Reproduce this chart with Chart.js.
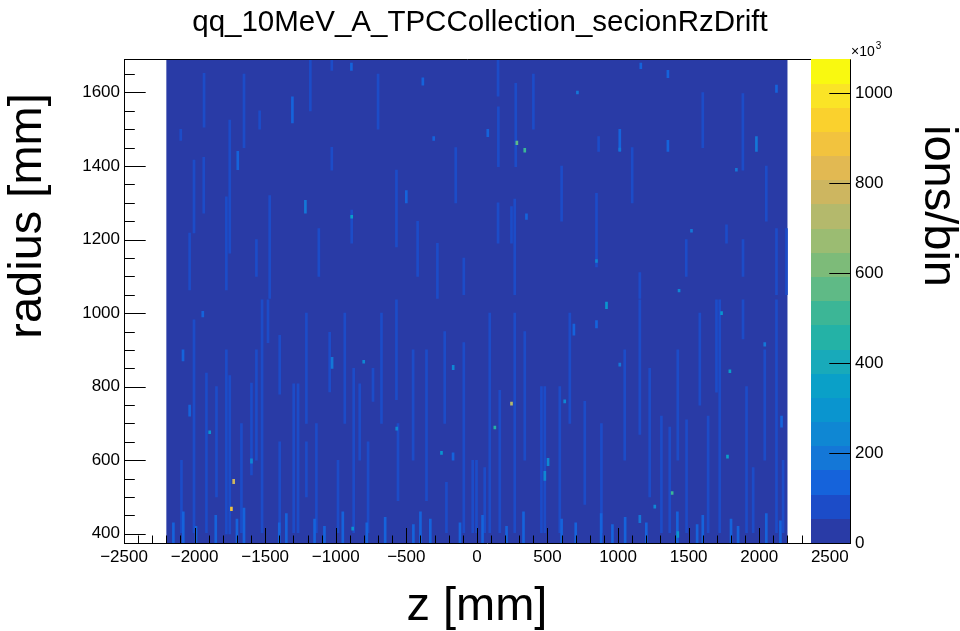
<!DOCTYPE html>
<html>
<head>
<meta charset="utf-8">
<script src="https://cdn.jsdelivr.net/npm/chart.js@4.4.1/dist/chart.umd.min.js"></script>
<style>
  html, body { margin: 0; padding: 0; background: #fff; }
</style>
</head>
<body>
<canvas id="myChart" width="960" height="631"></canvas>
<script>
// AXES
const zTicks = [-2500, -2000, -1500, -1000, -500, 0, 500, 1000, 1500, 2000, 2500];
const zTickLabels = ['\u22122500', '\u22122000', '\u22121500', '\u22121000', '\u2212500', '0', '500', '1000', '1500', '2000', '2500'];
const rTicks = [400, 600, 800, 1000, 1200, 1400, 1600];
const palTicks = [0, 200, 400, 600, 800, 1000];
const palMax = 1075; // x10^3 ions/bin at top of the palette

// histogram extent (filled bins) and content of the quiet bins
const zEdges = [-2200, 2200];
const rEdges = [375, 1690];
const quietValue = 20;

// streaks: z centre, r from, r to, content (x10^3 ions/bin)
const streakZ = [
  -1933, 152, -2004, -1935, -1775, -1751, -1028, -1028, -570, -500, -887, -1215, -2035, -280, -1120, -1307, -1539, -1468, -93, -1562, -2098, -889, -306, -1694, -383,
  275, 862, 1884, 1980, 847, 1012, 268, 150, 150, 2122, 2193, 1768, 1353, 1353, 1483, 1154, 77, 245, 1885, 2122, 1161, 351,
  -2004, -1916, -1775, -1751, -1597, -1522, -1480, -1298, -1267, -1043, -984, -873, -830, -570, -559, -357, -93, -30, -2082, -2035, -1942, -1026, -1208, -1397, -736, -169, -216,
  268, 481, 457, 764, 1154, 1307, 1485, 1638, 1697, 1720, 2122, 2169, 162, 91, 1366, 1885, 1957, 55, 847, 687, 2039, 1154, 2158,
  -2093, -1845, -1668, -1562, -1397, -1208, -1137, -936, -771, -676, -452, -228, -3, 339, 587, 658, 882, 1047, 1224, 1423, 1579, 1910, 2039,
  -1650, -1180, -700, -150, 400, 600, 1100, 1600, 2050, -420,
  -2150, -2080, -1990, -1850, -1700, -1650, -1400, -1350, -1150, -1080, -950, -780, -650, -450, -400, -330, -120, 40, 210, 330, 600, 700, 880, 960, 1050, 1200, 1420, 1560, 1600, 1800, 1850, 2050, 2150,
  283, 339, -887, 847, 712, 1012, 1520, 1432, 1838, -1723, -1739, -1893, -1597, -251, -168, -802, -880, -568, 245, 1383, 127, 1792, 918, 1733, 1775, 1423, 622, 1012, 504, 481, 1260
];
const streakR0 = [
  1506, 1398, 1218, 1272, 1063, 1163, 1389, 1660, 1180, 1300, 1190, 1272, 1063, 1040, 1100, 1517, 1500, 1040, 1050, 1100, 1470, 1660, 1470, 1390, 1620,
  1398, 1440, 1389, 1440, 1126, 1440, 1050, 1590, 1190, 1050, 1050, 1190, 1640, 1440, 1100, 1040, 1480, 1190, 1100, 1600, 1665, 1255,
  403, 403, 400, 400, 560, 403, 920, 403, 403, 786, 403, 403, 600, 765, 490, 490, 403, 403, 870, 720, 990, 850, 500, 780, 760, 600, 403,
  403, 403, 403, 480, 670, 403, 403, 403, 785, 403, 403, 403, 403, 403, 403, 930, 403, 403, 960, 940, 910, 430, 690,
  403, 500, 403, 600, 403, 700, 403, 700, 403, 700, 600, 700, 403, 600, 403, 700, 403, 600, 500, 600, 750, 403, 600,
  1450, 1550, 1500, 1300, 1500, 1250, 1300, 1450, 1250, 1100,
  375, 375, 375, 375, 375, 375, 375, 375, 375, 375, 375, 375, 375, 375, 375, 375, 375, 375, 375, 375, 375, 375, 375, 375, 375, 375, 375, 375, 375, 375, 375, 375, 375,
  1458, 1438, 1258, 1138, 1596, 1441, 1220, 1058, 1386, 536, 463, 672, 592, 616, 846, 864, 410, 682, 750, 507, 685, 838, 1012, 996, 606, 390, 756, 856, 585, 545, 470
];
const streakR1 = [
  1652, 1561, 1416, 1424, 1316, 1525, 1451, 1688, 1389, 1333, 1280, 1307, 1218, 1190, 1230, 1588, 1550, 1320, 1150, 1200, 1500, 1680, 1480, 1440, 1640,
  1625, 1480, 1597, 1480, 1326, 1500, 1310, 1690, 1300, 1230, 1230, 1240, 1660, 1470, 1200, 1110, 1500, 1290, 1200, 1620, 1680, 1270,
  982, 837, 900, 830, 810, 1036, 1036, 808, 808, 948, 600, 850, 808, 1036, 700, 900, 920, 600, 900, 750, 1005, 880, 650, 940, 850, 620, 540,
  1000, 800, 800, 760, 1036, 720, 710, 720, 1036, 1036, 1036, 600, 790, 1000, 690, 1036, 580, 580, 980, 970, 920, 450, 720,
  600, 800, 700, 900, 650, 1000, 700, 1000, 650, 1000, 900, 950, 600, 950, 800, 1000, 700, 900, 850, 900, 1000, 800, 900,
  1650, 1690, 1650, 1450, 1650, 1400, 1450, 1600, 1400, 1250,
  430, 460, 420, 450, 440, 470, 430, 455, 440, 420, 460, 430, 445, 425, 460, 440, 430, 450, 420, 460, 440, 430, 455, 425, 445, 430, 460, 425, 450, 440, 420, 455, 435,
  1468, 1448, 1266, 1146, 1604, 1449, 1228, 1065, 1394, 548, 473, 680, 604, 624, 858, 872, 418, 690, 758, 515, 693, 846, 1030, 1004, 614, 406, 764, 864, 605, 570, 478
];
const streakVal = [
  70, 70, 70, 90, 70, 70, 90, 70, 90, 120, 90, 200, 70, 70, 90, 120, 70, 70, 90, 90, 90, 150, 120, 120, 120,
  70, 90, 70, 200, 90, 120, 70, 90, 70, 70, 90, 90, 120, 120, 90, 90, 120, 90, 90, 120, 120, 150,
  70, 70, 70, 90, 90, 70, 70, 70, 90, 90, 90, 70, 90, 70, 70, 70, 70, 90, 120, 150, 150, 200, 90, 70, 90, 150, 90,
  70, 90, 70, 90, 70, 90, 70, 90, 70, 70, 70, 90, 70, 70, 90, 90, 90, 90, 150, 150, 200, 200, 150,
  70, 70, 70, 70, 70, 70, 70, 70, 70, 70, 70, 70, 70, 70, 70, 70, 70, 70, 70, 70, 70, 70, 70,
  70, 70, 70, 70, 70, 70, 70, 70, 70, 70,
  110, 110, 110, 110, 110, 110, 110, 110, 110, 110, 110, 110, 110, 110, 110, 110, 110, 110, 110, 110, 110, 110, 110, 110, 110, 110, 110, 110, 110, 110, 110, 110, 110,
  560, 520, 330, 260, 200, 200, 200, 250, 200, 800, 900, 300, 250, 300, 250, 250, 300, 250, 720, 500, 480, 350, 300, 300, 350, 300, 250, 200, 250, 250, 250
];

// 20-step palette, bottom to top
const palColors = [
  'rgb(41,59,166)', 'rgb(28,76,200)', 'rgb(21,99,219)', 'rgb(20,119,215)', 'rgb(15,135,211)',
  'rgb(10,149,207)', 'rgb(10,160,200)', 'rgb(24,170,186)', 'rgb(36,178,166)', 'rgb(60,182,150)',
  'rgb(95,186,134)', 'rgb(125,187,121)', 'rgb(155,188,114)', 'rgb(180,185,108)', 'rgb(205,182,96)',
  'rgb(226,185,82)', 'rgb(242,195,62)', 'rgb(250,209,45)', 'rgb(250,228,38)', 'rgb(249,249,16)'
];
const colorFor = v => palColors[Math.max(0, Math.min(19, Math.floor(v / (palMax / 20))))];

const FONT = "'Liberation Sans', Arial, sans-serif";

const cells = streakZ.map((z, i) => ({ x: z, y: [streakR0[i], streakR1[i]], v: streakVal[i] }))
  .sort((a, b) => a.v - b.v);

// quiet bins, frame, inward ticks, palette and axis titles
const rootFrame = {
  id: 'rootFrame',
  beforeDatasetsDraw(chart) {
    const { ctx, scales: { x, y } } = chart;
    ctx.save();
    ctx.fillStyle = colorFor(quietValue);
    const x0 = x.getPixelForValue(zEdges[0]), x1 = x.getPixelForValue(zEdges[1]);
    const y0 = y.getPixelForValue(rEdges[1]), y1 = y.getPixelForValue(rEdges[0]);
    ctx.fillRect(x0, y0, x1 - x0, y1 - y0);
    ctx.restore();
  },
  afterDatasetsDraw(chart) {
    const { ctx, chartArea: a, scales: { x, y, pal } } = chart;
    ctx.save();
    ctx.strokeStyle = '#000';
    ctx.lineWidth = 1;
    ctx.beginPath();
    // z ticks
    for (let v = -2500; v <= 2650; v += 100) {
      const px = Math.round(x.getPixelForValue(v)) + 0.5;
      const len = v % 500 === 0 ? 15 : 7.5;
      ctx.moveTo(px, a.bottom); ctx.lineTo(px, a.bottom - len);
    }
    // r ticks
    for (let v = 400; v <= 1690; v += 50) {
      const py = Math.round(y.getPixelForValue(v)) + 0.5;
      const len = v % 200 === 0 ? 21.7 : 10.8;
      ctx.moveTo(a.left, py); ctx.lineTo(a.left + len, py);
    }
    ctx.stroke();

    // palette
    const pl = Math.round(a.right - 40);
    const step = palMax / 20;
    for (let i = 0; i < 20; i++) {
      const yt = Math.round(pal.getPixelForValue((i + 1) * step));
      const yb = Math.round(pal.getPixelForValue(i * step));
      ctx.fillStyle = palColors[i];
      ctx.fillRect(pl, yt, Math.round(a.right) - pl, yb - yt);
    }

    ctx.beginPath();
    ctx.moveTo(Math.round(a.left) + 0.5, a.top); ctx.lineTo(Math.round(a.left) + 0.5, a.bottom);
    ctx.moveTo(a.left, Math.round(a.bottom) + 0.5); ctx.lineTo(a.right, Math.round(a.bottom) + 0.5);
    ctx.moveTo(a.left, Math.round(a.top) + 0.5); ctx.lineTo(pl, Math.round(a.top) + 0.5);
    ctx.moveTo(Math.round(a.right) - 0.5, a.top); ctx.lineTo(Math.round(a.right) - 0.5, a.bottom);
    palTicks.forEach(v => {
      const py = Math.round(pal.getPixelForValue(v)) + 0.5;
      ctx.moveTo(a.right, py); ctx.lineTo(a.right - 21.7, py);
    });
    ctx.stroke();

    // x10^3
    ctx.fillStyle = '#000';
    ctx.textAlign = 'left';
    ctx.textBaseline = 'alphabetic';
    ctx.font = '14px ' + FONT;
    ctx.fillText('\u00d710', a.right, 56);
    const w = ctx.measureText('\u00d710').width;
    ctx.font = '10px ' + FONT;
    ctx.fillText('3', a.right + w + 1, 49);

    // axis titles
    ctx.font = '47px ' + FONT;
    ctx.textAlign = 'center';
    ctx.fillText('z [mm]', x.getPixelForValue(0), 620);
    ctx.save();
    ctx.translate(41, 216);
    ctx.rotate(-Math.PI / 2);
    ctx.fillText('radius [mm]', 0, 0);
    ctx.restore();
    ctx.save();
    ctx.translate(925, 206);
    ctx.rotate(Math.PI / 2);
    ctx.fillText('ions/bin', 0, 0);
    ctx.restore();
    ctx.restore();
  }
};

const tickFont = { family: FONT, size: 17 };

new Chart(document.getElementById('myChart'), {
  type: 'bar',
  data: {
    datasets: [{
      data: cells,
      backgroundColor: c => colorFor(c.raw ? c.raw.v : 0),
      borderWidth: 0,
      barThickness: 2
    }]
  },
  options: {
    responsive: false,
    animation: false,
    events: [],
    layout: { padding: 0 },
    plugins: {
      legend: { display: false },
      tooltip: { enabled: false },
      title: {
        display: true,
        text: 'qq_10MeV_A_TPCCollection_secionRzDrift',
        color: '#000',
        font: { family: FONT, size: 29.5, weight: 'normal' },
        padding: { top: 5, bottom: 19 }
      }
    },
    scales: {
      x: {
        type: 'linear', min: -2500, max: 2650, offset: false,
        grid: { display: false, drawTicks: false }, border: { display: false },
        afterBuildTicks: s => { s.ticks = zTicks.map(v => ({ value: v })); },
        afterFit: s => { s.height = 88; },
        ticks: { padding: 4, color: '#000', font: tickFont, maxRotation: 0, autoSkip: false,
                 callback: v => zTickLabels[zTicks.indexOf(v)] }
      },
      y: {
        type: 'linear', min: 375, max: 1690,
        grid: { display: false, drawTicks: false }, border: { display: false },
        afterBuildTicks: s => { s.ticks = rTicks.map(v => ({ value: v })); },
        afterFit: s => { s.width = 124; },
        ticks: { padding: 4, color: '#000', font: tickFont, autoSkip: false, callback: v => String(v) }
      },
      pal: {
        type: 'linear', position: 'right', min: 0, max: palMax,
        grid: { display: false, drawTicks: false }, border: { display: false },
        afterBuildTicks: s => { s.ticks = palTicks.map(v => ({ value: v })); },
        afterFit: s => { s.width = 109; },
        ticks: { padding: 4, color: '#000', font: tickFont, autoSkip: false, callback: v => String(v) }
      }
    }
  },
  plugins: [rootFrame]
});
</script>
</body>
</html>
